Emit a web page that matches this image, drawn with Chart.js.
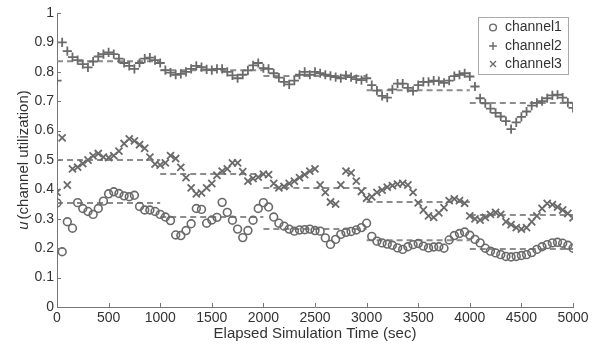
<!DOCTYPE html>
<html>
<head>
<meta charset="utf-8">
<script src="https://cdn.jsdelivr.net/npm/chart.js"></script>
<style>
  html, body { margin: 0; padding: 0; background: #fff; }
  #chart { display: block; }
</style>
</head>
<body>
<canvas id="chart" width="604" height="346"></canvas>
<script>
// sample times (sec)
const times = [
  0, 50, 100, 150, 200, 250, 300, 350, 400, 450,
  500, 550, 600, 650, 700, 750, 800, 850, 900, 950,
  1000, 1050, 1100, 1150, 1200, 1250, 1300, 1350, 1400, 1450,
  1500, 1550, 1600, 1650, 1700, 1750, 1800, 1850, 1900, 1950,
  2000, 2050, 2100, 2150, 2200, 2250, 2300, 2350, 2400, 2450,
  2500, 2550, 2600, 2650, 2700, 2750, 2800, 2850, 2900, 2950,
  3000, 3050, 3100, 3150, 3200, 3250, 3300, 3350, 3400, 3450,
  3500, 3550, 3600, 3650, 3700, 3750, 3800, 3850, 3900, 3950,
  4000, 4050, 4100, 4150, 4200, 4250, 4300, 4350, 4400, 4450,
  4500, 4550, 4600, 4650, 4700, 4750, 4800, 4850, 4900, 4950,
  5000
];

const channel1 = [
  0.354, 0.188, 0.29, 0.268, 0.355, 0.335, 0.325, 0.315, 0.335, 0.36,
  0.385, 0.392, 0.386, 0.378, 0.375, 0.38, 0.342, 0.33, 0.33, 0.325,
  0.315, 0.306, 0.294, 0.245, 0.243, 0.26, 0.283, 0.335, 0.332, 0.285,
  0.296, 0.305, 0.356, 0.322, 0.295, 0.265, 0.236, 0.26, 0.295, 0.335,
  0.355, 0.34, 0.306, 0.285, 0.275, 0.265, 0.258, 0.262, 0.263, 0.265,
  0.26, 0.258, 0.235, 0.213, 0.23, 0.247, 0.254, 0.257, 0.262, 0.27,
  0.285, 0.24, 0.224, 0.218, 0.214, 0.21, 0.201, 0.196, 0.205, 0.212,
  0.216, 0.207, 0.201, 0.204, 0.205, 0.2, 0.228, 0.243, 0.25, 0.255,
  0.244, 0.23, 0.218, 0.2, 0.19, 0.184, 0.178, 0.172, 0.17, 0.172,
  0.175, 0.178, 0.185, 0.196, 0.205, 0.212, 0.218, 0.22, 0.217, 0.21,
  0.2
];

const channel2 = [
  0.77, 0.90, 0.87, 0.85, 0.84, 0.826, 0.815, 0.835, 0.852, 0.86,
  0.866, 0.86, 0.845, 0.83, 0.82, 0.81, 0.83, 0.845, 0.848, 0.84,
  0.83, 0.806, 0.797, 0.79, 0.793, 0.80, 0.81, 0.82, 0.816, 0.808,
  0.806, 0.81, 0.81, 0.80, 0.788, 0.778, 0.79, 0.805, 0.822, 0.83,
  0.812, 0.81, 0.795, 0.78, 0.766, 0.757, 0.77, 0.79, 0.80, 0.79,
  0.80, 0.795, 0.79, 0.786, 0.782, 0.778, 0.788, 0.782, 0.775, 0.772,
  0.778, 0.755, 0.736, 0.718, 0.712, 0.74, 0.76, 0.76, 0.745, 0.735,
  0.755, 0.766, 0.766, 0.77, 0.768, 0.762, 0.77, 0.785, 0.79, 0.795,
  0.784, 0.75, 0.71, 0.693, 0.675, 0.66, 0.648, 0.632, 0.605, 0.628,
  0.647, 0.665, 0.685, 0.694, 0.70, 0.71, 0.72, 0.722, 0.712, 0.695,
  0.677
];

const channel3 = [
  0.39, 0.575, 0.415, 0.47, 0.476, 0.488, 0.50, 0.514, 0.522, 0.51,
  0.508, 0.515, 0.53, 0.556, 0.572, 0.565, 0.552, 0.54, 0.51, 0.486,
  0.483, 0.49, 0.515, 0.505, 0.475, 0.44, 0.405, 0.385, 0.388, 0.405,
  0.42, 0.448, 0.462, 0.47, 0.49, 0.49, 0.46, 0.428, 0.437, 0.442,
  0.452, 0.45, 0.42, 0.405, 0.41, 0.42, 0.428, 0.44, 0.45, 0.462,
  0.47, 0.415, 0.39, 0.357, 0.35, 0.415, 0.462, 0.456, 0.428, 0.393,
  0.37, 0.375, 0.39, 0.398, 0.408, 0.413, 0.418, 0.42, 0.415, 0.39,
  0.354, 0.33, 0.31, 0.305, 0.32, 0.338, 0.362, 0.368, 0.362, 0.353,
  0.31, 0.30, 0.296, 0.305, 0.315, 0.322, 0.315, 0.29, 0.28, 0.27,
  0.265, 0.27, 0.29, 0.31, 0.335, 0.352, 0.348, 0.34, 0.33, 0.318,
  0.303
];

// window averages (dashed lines)
const segEdges = [0, 1000, 2000, 3000, 4000, 5000];
const channel1Mean = [0.354, 0.306, 0.265, 0.227, 0.197];
const channel2Mean = [0.836, 0.805, 0.786, 0.737, 0.694];
const channel3Mean = [0.50, 0.452, 0.405, 0.357, 0.313];

const xTicks = [0, 500, 1000, 1500, 2000, 2500, 3000, 3500, 4000, 4500, 5000];
const yTicks = [0, 0.1, 0.2, 0.3, 0.4, 0.5, 0.6, 0.7, 0.8, 0.9, 1];

const FONT = "'Liberation Sans', Arial, sans-serif";
const MARK = '#6a6a6a';
const DASH = '#8c8c8c';

function points(ys) {
  return times.map((t, i) => ({ x: t, y: ys[i] }));
}

// one dashed segment per averaging window
function meanSets(means) {
  return means.map((m, i) => ({
    type: 'line',
    data: [{ x: segEdges[i], y: m }, { x: segEdges[i + 1], y: m }],
    borderColor: DASH,
    borderWidth: 2,
    borderDash: [6, 4],
    pointRadius: 0,
    fill: false,
    order: 10
  }));
}

const markerSets = [
  { label: 'channel1', data: points(channel1), pointStyle: 'circle', pointRadius: 3.9,
    pointBorderColor: MARK, pointBackgroundColor: 'rgba(0,0,0,0)', pointBorderWidth: 1.6, order: 1 },
  { label: 'channel2', data: points(channel2), pointStyle: 'cross', pointRadius: 4.6,
    pointBorderColor: MARK, pointBorderWidth: 1.8, order: 1 },
  { label: 'channel3', data: points(channel3), pointStyle: 'crossRot', pointRadius: 5,
    pointBorderColor: MARK, pointBorderWidth: 1.8, order: 1 }
];

// inward ticks, axis titles and the boxed legend
const decor = {
  id: 'decor',
  afterDraw(chart) {
    const { ctx, chartArea: a, scales: { x, y } } = chart;
    ctx.save();
    ctx.strokeStyle = '#777';
    ctx.lineWidth = 1;
    ctx.beginPath();
    x.ticks.forEach(t => {
      const px = Math.round(x.getPixelForValue(t.value)) + 0.5;
      ctx.moveTo(px, a.bottom);
      ctx.lineTo(px, a.bottom - 4);
    });
    y.ticks.forEach(t => {
      const py = Math.round(y.getPixelForValue(t.value)) + 0.5;
      ctx.moveTo(a.left, py);
      ctx.lineTo(a.left + 4, py);
    });
    ctx.stroke();

    ctx.fillStyle = '#333';
    ctx.textBaseline = 'middle';
    // x title
    ctx.font = '15px ' + FONT;
    ctx.textAlign = 'center';
    ctx.fillText('Elapsed Simulation Time (sec)', (a.left + a.right) / 2, 334);

    // y title, italic u
    ctx.save();
    ctx.translate(24, (a.top + a.bottom) / 2);
    ctx.rotate(-Math.PI / 2);
    ctx.textAlign = 'left';
    ctx.font = 'italic 15px ' + FONT;
    const u = 'u';
    const wu = ctx.measureText(u).width;
    ctx.font = '15px ' + FONT;
    const rest = '(channel utilization)';
    const wr = ctx.measureText(rest).width;
    const gap = 2;
    const x0 = -(wu + gap + wr) / 2;
    ctx.font = 'italic 15px ' + FONT;
    ctx.fillText(u, x0, 0);
    ctx.font = '15px ' + FONT;
    ctx.fillText(rest, x0 + wu + gap, 0);
    ctx.restore();

    // legend
    const bx = 478.5, by = 17.5, bw = 90, bh = 57;
    ctx.fillStyle = '#fff';
    ctx.fillRect(bx, by, bw, bh);
    ctx.strokeStyle = '#aaa';
    ctx.lineWidth = 1;
    ctx.strokeRect(bx, by, bw, bh);
    const rows = [27.5, 46, 64];
    const mx = 493;
    ctx.strokeStyle = MARK;
    ctx.lineWidth = 1.4;
    ctx.beginPath();
    ctx.arc(mx, rows[0], 3.4, 0, Math.PI * 2);
    ctx.stroke();
    ctx.beginPath();
    ctx.moveTo(mx - 3.9, rows[1]); ctx.lineTo(mx + 3.9, rows[1]);
    ctx.moveTo(mx, rows[1] - 3.9); ctx.lineTo(mx, rows[1] + 3.9);
    ctx.moveTo(mx - 3, rows[2] - 3); ctx.lineTo(mx + 3, rows[2] + 3);
    ctx.moveTo(mx - 3, rows[2] + 3); ctx.lineTo(mx + 3, rows[2] - 3);
    ctx.stroke();
    ctx.fillStyle = '#333';
    ctx.font = '14px ' + FONT;
    ctx.textAlign = 'left';
    markerSets.forEach((d, i) => ctx.fillText(d.label, 505, rows[i]));
    ctx.restore();
  }
};

new Chart(document.getElementById('chart'), {
  type: 'scatter',
  data: {
    datasets: [
      ...meanSets(channel1Mean),
      ...meanSets(channel2Mean),
      ...meanSets(channel3Mean),
      ...markerSets
    ]
  },
  options: {
    responsive: false,
    animation: false,
    devicePixelRatio: 1,
    layout: { padding: { left: 0, right: 31, top: 13, bottom: 0 } },
    plugins: {
      legend: { display: false },
      tooltip: { enabled: false }
    },
    scales: {
      x: {
        type: 'linear',
        min: 0,
        max: 5000,
        afterFit: s => { s.height = 39; },
        afterBuildTicks: s => { s.ticks = xTicks.map(v => ({ value: v })); },
        grid: { drawOnChartArea: false, drawTicks: false },
        border: { display: true, color: '#777', width: 1 },
        ticks: {
          padding: 3,
          color: '#333',
          maxRotation: 0,
          autoSkip: false,
          font: { family: FONT, size: 14 },
          callback: v => String(v)
        }
      },
      y: {
        type: 'linear',
        min: 0,
        max: 1,
        afterFit: s => { s.width = 57; },
        afterBuildTicks: s => { s.ticks = yTicks.map(v => ({ value: v })); },
        grid: { drawOnChartArea: false, drawTicks: false },
        border: { display: true, color: '#777', width: 1 },
        ticks: {
          padding: 3,
          color: '#333',
          autoSkip: false,
          font: { family: FONT, size: 14 },
          callback: v => String(Math.round(v * 10) / 10)
        }
      }
    }
  },
  plugins: [decor]
});
</script>
</body>
</html>
